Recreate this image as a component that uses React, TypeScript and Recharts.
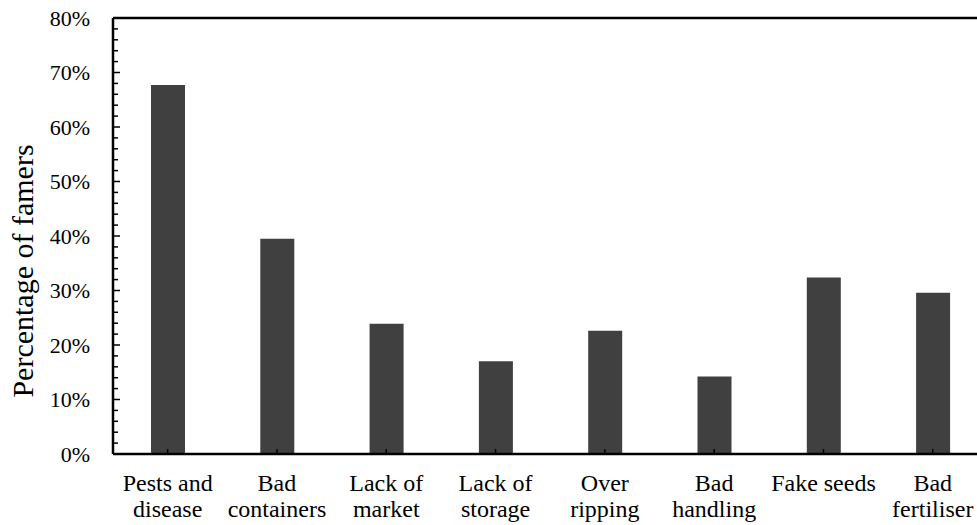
import React from 'react';
import { BarChart, Bar, XAxis, YAxis, ReferenceLine, Label } from 'recharts';

const categories = [
  'Pests and\ndisease',
  'Bad\ncontainers',
  'Lack of\nmarket',
  'Lack of\nstorage',
  'Over\nripping',
  'Bad\nhandling',
  'Fake seeds',
  'Bad\nfertiliser',
];
const percentages = [67.7, 39.5, 23.9, 17.0, 22.6, 14.2, 32.4, 29.6];
const yTicks = [0, 2, 4, 6, 8, 10, 12, 14, 16, 18, 20, 22, 24, 26, 28, 30, 32, 34, 36, 38, 40, 42, 44, 46, 48, 50, 52, 54, 56, 58, 60, 62, 64, 66, 68, 70, 72, 74, 76, 78, 80];
const majorTicks = [0, 10, 20, 30, 40, 50, 60, 70, 80];
const yAxisTitle = 'Percentage of famers';

const data = categories.map((c, i) => ({ category: c, value: percentages[i] }));

const FONT = '"Liberation Serif", "Times New Roman", Times, serif';

const XTick = (props: any) => {
  const { x, y, payload } = props;
  const lines = String(payload.value).split('\n');
  return (
    <g>
      <line x1={x} x2={x} y1={y} y2={y - 5} stroke="#000" strokeWidth={1.5} />
      {lines.map((l: string, i: number) => (
        <text key={i} x={x} y={y + 37 + i * 26} textAnchor="middle" fontFamily={FONT} fontSize={24} fill="#000">
          {l}
        </text>
      ))}
    </g>
  );
};

const YTick = (props: any) => {
  const { x, y, payload } = props;
  const v = Number(payload.value);
  const major = majorTicks.includes(v);
  return (
    <g>
      <line x1={x} x2={x + (major ? 7 : 5)} y1={y} y2={y} stroke="#000" strokeWidth={1.5} />
      {major && (
        <text x={x - 23} y={y + 7.5} textAnchor="end" fontFamily={FONT} fontSize={22} fill="#000">
          {v + '%'}
        </text>
      )}
    </g>
  );
};

const YTitle = (props: any) => {
  const vb = props.viewBox || { x: 0, y: 18, width: 113, height: 436 };
  const cx = 33;
  const cy = vb.y + vb.height / 2 + 35;
  return (
    <text
      x={cx}
      y={cy}
      transform={`rotate(-90 ${cx} ${cy})`}
      textAnchor="middle"
      fontFamily={FONT}
      fontSize={30}
      fill="#000"
    >
      {yAxisTitle}
    </text>
  );
};

export default function App() {
  return (
    <div style={{ position: 'absolute', left: 0, top: 0, width: 977, height: 525, overflow: 'hidden', background: '#fff' }}>
      <BarChart
        width={1000}
        height={525}
        data={data}
        margin={{ top: 18, right: 12.6, left: 0, bottom: 0 }}
      >
        <XAxis
          dataKey="category"
          height={71}
          interval={0}
          tickSize={0}
          tickMargin={0}
          tickLine={false}
          axisLine={{ stroke: '#000', strokeWidth: 2.5 }}
          tick={<XTick />}
        />
        <YAxis
          width={113}
          domain={[0, 80]}
          ticks={yTicks}
          interval={0}
          tickSize={0}
          tickMargin={0}
          tickLine={false}
          allowDataOverflow
          axisLine={{ stroke: '#000', strokeWidth: 2.5 }}
          tick={<YTick />}
        >
          <Label content={<YTitle />} />
        </YAxis>
        <ReferenceLine y={80} stroke="#000" strokeWidth={2.5} ifOverflow="extendDomain" />
        <Bar dataKey="value" fill="#404040" barSize={34} isAnimationActive={false} />
      </BarChart>
    </div>
  );
}
